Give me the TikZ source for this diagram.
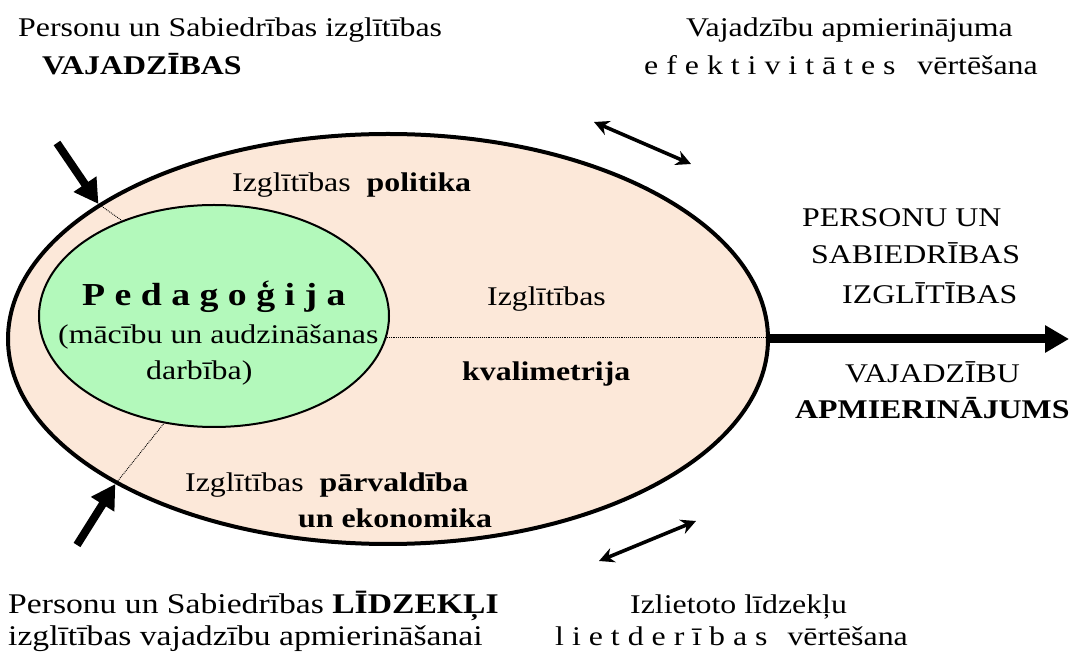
\documentclass[tikz,border=0pt]{standalone}
\usepackage{fontspec}
\setmainfont{Liberation Serif}[FakeStretch=1.18]
\usepackage{tikz}
\usetikzlibrary{shapes.geometric,arrows.meta}
\definecolor{peach}{HTML}{FCE8D9}
\definecolor{mint}{HTML}{B3F9BB}

\begin{document}
\begin{tikzpicture}[x=1pt,y=1pt]
                \tikzstyle{oval}=[ellipse, draw=black, inner sep=0pt]
                \tikzstyle{txt}=[inner sep=0pt, anchor=base west, font=\fontsize{27}{32}\selectfont]
                \tikzstyle{push}=[draw, line width=8pt, -{Triangle[length=24pt,width=26pt]}]
                \tikzstyle{swap}=[draw, line width=3.6pt, {Stealth[length=15pt,width=15pt]}-{Stealth[length=15pt,width=15pt]}]
                \tikzstyle{link}=[draw, line width=0.9pt, densely dotted]

                \useasboundingbox (0,0) rectangle (1070,661);

                \node[oval, fill=peach, line width=4pt, minimum width=760pt, minimum height=410pt] (outer) at (388,322) {};
                \node[oval, fill=mint, line width=2pt, minimum width=350pt, minimum height=222pt] (inner) at (214,345) {};

                \coordinate (in1) at (57,518);
                \coordinate (in2) at (77,116);
                \coordinate (goal) at (1069,322);
                \coordinate (ev1) at (594,539);
                \coordinate (ev2) at (691,497);
                \coordinate (ev3) at (696,140);
                \coordinate (ev4) at (599,100);

                \foreach \a/\b in {155/134, 208/245}
                \path[link] (outer.\a) -- (inner.\b);
                \path[link] (inner.-7) -- (inner.-7 -| outer.east);

                \path[push] (in1) -- (outer.155);
                \path[push] (in2) -- (outer.208);
                \path[push, line width=9pt] (outer.east) -- (goal);
                \path[swap] (ev1) -- (ev2);
                \path[swap] (ev3) -- (ev4);

                \node[txt] (needs1) at (18,624) {Personu un Sabiedrības izglītības};
                \node[txt] (needs2) at (42,586) {\textbf{VAJADZĪBAS}};
                \node[txt] (eff1) at (686,624) {Vajadzību apmierinājuma};
                \node[txt] (eff2) at (644,586) {e f e k t i v i t ā t e s\hspace{14pt} vērtēšana};

                \node[txt] (pol) at (232,469) {Izglītības\ \ \textbf{politika}};
                \node[txt, font=\fontsize{32}{38}\selectfont\bfseries] (ped1) at (82,355) {P e d a g o ģ i j a};
                \node[txt] (ped2) at (58,317) {(mācību un audzināšanas};
                \node[txt] (ped3) at (146,281) {darbība)};
                \node[txt] (kval1) at (487,355) {Izglītības};
                \node[txt] (kval2) at (462,280) {\textbf{kvalimetrija}};
                \node[txt] (parv1) at (185,169) {Izglītības\ \ \textbf{pārvaldība}};
                \node[txt] (parv2) at (298,133) {\textbf{un ekonomika}};

                \node[txt] (out1) at (802,434) {PERSONU UN};
                \node[txt] (out2) at (811,397) {SABIEDRĪBAS};
                \node[txt] (out3) at (842,357) {IZGLĪTĪBAS};
                \node[txt] (out4) at (845,278) {VAJADZĪBU};
                \node[txt] (out5) at (795,242) {\textbf{APMIERINĀJUMS}};

                \node[txt, font=\fontsize{28.5}{34}\selectfont] (res1) at (8,48) {Personu un Sabiedrības \textbf{LĪDZEKĻI}};
                \node[txt, font=\fontsize{28.5}{34}\selectfont] (res2) at (8,16) {izglītības vajadzību apmierināšanai};
                \node[txt] (use1) at (630,48) {Izlietoto līdzekļu};
                \node[txt] (use2) at (555,16) {l i e t d e r ī b a s\hspace{12pt} vērtēšana};
            \end{tikzpicture}
\end{document}
